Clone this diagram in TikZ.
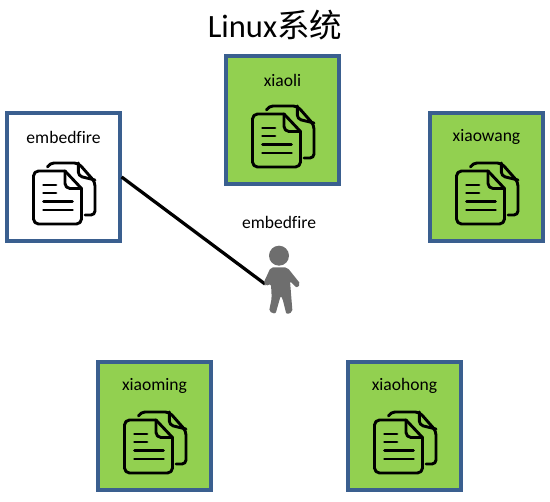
\documentclass[tikz,border=0pt]{standalone}
\usepackage{fontspec}
\setmainfont[Ligatures=NoCommon]{Carlito}
\newfontfamily\cjk{Noto Sans CJK SC}
\usetikzlibrary{positioning}
\definecolor{boxblue}{HTML}{3A5F8F}
\definecolor{boxgreen}{HTML}{92D050}
\definecolor{usergray}{HTML}{6E6E6E}
\tikzset{
	userbox/.style={draw=boxblue,line width=0.065cm,fill=boxgreen,minimum width=2.26cm,minimum height=2.56cm,inner sep=0pt},
	ownbox/.style={userbox,fill=white},
	boxname/.style={font=\fontsize{10}{12}\selectfont,inner sep=0pt},
	docfile/.pic={
		\begin{scope}[line width=0.058cm,line join=round,line cap=round]
			\draw[rounded corners=0.08cm] (-16,-10) -- (-13.5,-14) -- (14.8,-14) -- (31.5,5) -- (31.5,38) -- (21.5,38);
			\draw[rounded corners=0.08cm] (14.8,-14) -- (14.8,-1) -- (31.5,3);
			\draw[rounded corners=0.1cm] (1.5,-6) -- (-30,-6) -- (-30,47) -- (18,47) -- (18,11.5);
			\draw (1.5,-6) -- (18,11.5);
			\draw[rounded corners=0.1cm] (1.5,-6) -- (1.5,11.5) -- (18,11.5);
			\draw (-20,8) -- (-7.5,8);
			\draw (-20,16) -- (-7.5,16);
			\draw (-20,24.7) -- (9,24.7);
			\draw (-20,33) -- (9,33);
		\end{scope}
	}
}
\begin{document}
\begin{tikzpicture}[x=0.02cm,y=-0.02cm]
	\useasboundingbox (0,0) rectangle (550,502);
	\node(title) at (275,25) {\fontsize{18.5}{22}\selectfont Linux{\cjk 系统}};
	\node(embedfire) [ownbox] at (63.5,177) {};
	\node(xiaoli) [userbox] at (282.5,120) {};
	\node(xiaowang) [userbox] at (486.5,177) {};
	\node(xiaoming) [userbox] at (154.5,426) {};
	\node(xiaohong) [userbox] at (404.5,426) {};
	\node(n1) [boxname] at (63.5,137) {embedfire};
	\node(n2) [boxname] at (282.5,80) {xiaoli};
	\node(n3) [boxname] at (486.5,137) {xiaowang};
	\node(n4) [boxname] at (154.5,386) {xiaoming};
	\node(n5) [boxname] at (404.5,386) {xiaohong};
	\pic at (63.5,177) {docfile};
	\pic at (282.5,120) {docfile};
	\pic at (486.5,177) {docfile};
	\pic at (154.5,426) {docfile};
	\pic at (404.5,426) {docfile};
	\node(n6) [boxname] at (279,222) {embedfire};
	\coordinate(hand) at (265,284);
	\draw[line width=0.065cm,preaction={draw=black!25,transform canvas={shift={(0.4pt,-0.8pt)}}}] (embedfire.east) -- (hand);
	\fill[usergray] (279,255.7) circle (10);
	\fill[usergray,rounded corners=0.04cm] (270.7,267.5) -- (287.3,267.5) -- (300.5,284) -- (296.7,288) -- (290,281) -- (292.5,312) -- (286.5,314.5) -- (282.3,298) -- (280.7,295.7) -- (275.5,314) -- (269,311.5) -- (271.7,298) -- (271,284) -- (265.5,286) -- (263.5,283) -- cycle;
\end{tikzpicture}
\end{document}
